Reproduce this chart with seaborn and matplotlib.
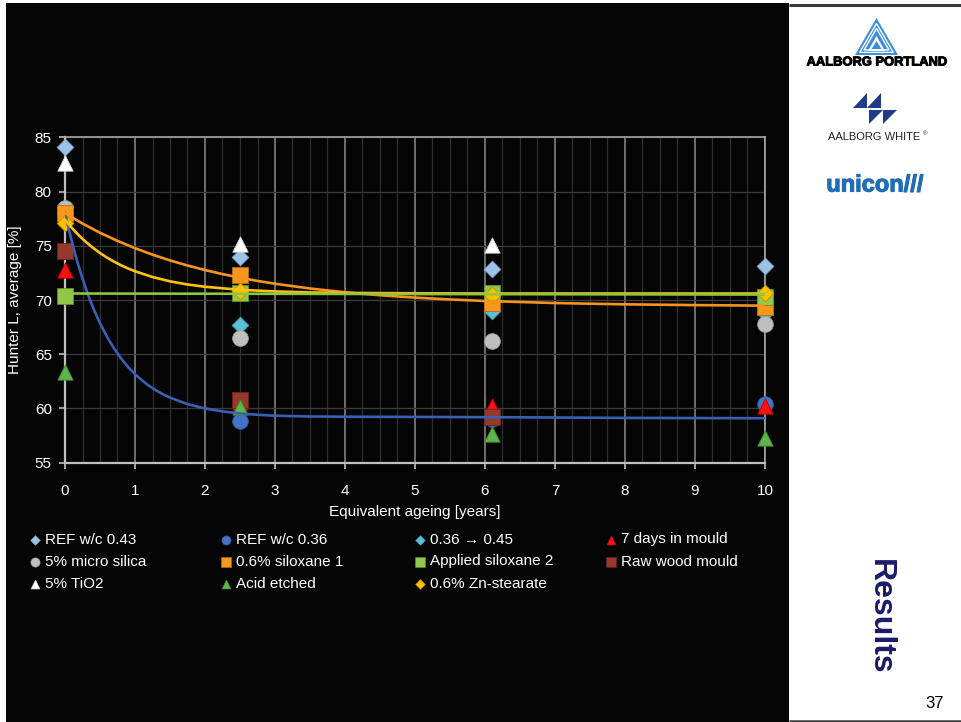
import numpy as np
import pandas as pd
import matplotlib
matplotlib.use("Agg")
import matplotlib.pyplot as plt
from matplotlib.patches import Rectangle, Polygon
import matplotlib.patheffects as pe
import seaborn as sns

# Hunter L measured after each equivalent ageing step
ageing_years = [0, 2.5, 6.1, 10]

ref_043 = [84.1, 74.0, 72.9, 73.1]
ref_036 = [78.0, 58.85, 59.0, 60.4]
wc_036_045 = [78.0, 67.7, 69.0, 68.8]
days_in_mould_7 = [72.8, 60.6, 60.2, 60.2]
micro_silica_5 = [78.5, 66.5, 66.2, 67.8]
siloxane_1 = [78.0, 72.3, 69.7, 69.4]
applied_siloxane_2 = [70.4, 70.6, 70.6, 70.3]
raw_wood_mould = [74.5, 60.8, 59.2, np.nan]
tio2_5 = [82.6, 75.2, 75.1, np.nan]
acid_etched = [63.4, 60.1, 57.6, 57.3]
zn_stearate = [77.1, 70.8, 70.5, 70.6]

labels = ["REF w/c 0.43", "REF w/c 0.36", "0.36 \u2192 0.45", "7 days in mould",
          "5% micro silica", "0.6% siloxane 1", "Applied siloxane 2", "Raw wood mould",
          "5% TiO2", "Acid etched", "0.6% Zn-stearate"]
values = [ref_043, ref_036, wc_036_045, days_in_mould_7, micro_silica_5, siloxane_1,
          applied_siloxane_2, raw_wood_mould, tio2_5, acid_etched, zn_stearate]

# model curves
blue_fit_x = [0, 0.05, 0.1, 0.15, 0.2, 0.25, 0.3, 0.35, 0.4, 0.45, 0.5, 0.6, 0.7, 0.8,
              0.9, 1.0, 1.1, 1.2, 1.3, 1.4, 1.5, 1.75, 2.0, 2.25, 2.5, 2.75, 3.0, 3.5,
              4, 5, 6, 8, 10]
blue_fit_y = [78.05, 76.64, 75.34, 74.13, 73.01, 71.98, 71.02, 70.14, 69.32, 68.56,
              67.86, 66.61, 65.54, 64.62, 63.83, 63.16, 62.59, 62.09, 61.67, 61.31,
              61.0, 60.4, 60.0, 59.73, 59.54, 59.42, 59.33, 59.26, 59.24, 59.22, 59.2,
              59.13, 59.1]
orange_fit_x = [0, 0.25, 0.5, 0.75, 1.0, 1.25, 1.5, 1.75, 2.0, 2.25, 2.5, 2.75, 3.0,
                3.5, 4.0, 4.5, 5, 5.5, 6, 7, 8, 9, 10]
orange_fit_y = [78.0, 77.05, 76.2, 75.45, 74.78, 74.18, 73.65, 73.18, 72.76, 72.39,
                72.06, 71.76, 71.5, 71.06, 70.71, 70.44, 70.22, 70.05, 69.91, 69.72,
                69.6, 69.53, 69.48]
yellow_fit_x = [0, 0.1, 0.2, 0.3, 0.4, 0.5, 0.6, 0.7, 0.8, 0.9, 1.0, 1.25, 1.5, 1.75,
                2.0, 2.5, 3.0, 3.5, 4, 5, 6, 10]
yellow_fit_y = [77.4, 76.63, 75.95, 75.34, 74.81, 74.33, 73.91, 73.54, 73.2, 72.91,
                72.65, 72.12, 71.72, 71.43, 71.22, 70.94, 70.79, 70.7, 70.65, 70.62,
                70.6, 70.6]
green_fit_x = [0, 10]
green_fit_y = [70.6, 70.5]

# marker style per series: (marker, face, edge, size)
styles = [
    ("D", "#9DC3E6", "#7FA6CC", 72),
    ("o", "#4472C4", "#2F528F", 128),
    ("D", "#5BC0D3", "#3E9FB2", 72),
    ("^", "#FF1010", "#C00000", 122),
    ("o", "#BFBFBF", "#A0A0A0", 128),
    ("s", "#F7981D", "#B86E10", 125),
    ("s", "#92C84A", "#5F8F2A", 125),
    ("s", "#953A2B", "#6B2418", 125),
    ("^", "#FFFFFF", "#D0D0D0", 122),
    ("^", "#5CB548", "#3E8A2E", 122),
    ("D", "#FFC000", "#C79400", 72),
]

sns.set_theme(style="white")
plt.rcParams["font.family"] = ["Liberation Sans", "DejaVu Sans"]

W, H = 962, 722
fig = plt.figure(figsize=(W / 100, H / 100), dpi=100)
fig.patch.set_facecolor("#050505")

ax = fig.add_axes([65 / W, 1 - 462.7 / H, 700 / W, 325.4 / H])
ax.set_facecolor("#050505")

for lab, vals, (m, fc, ec, s) in zip(labels, values, styles):
    df = pd.DataFrame({"age": ageing_years, "L": vals}).dropna()
    sns.scatterplot(data=df, x="age", y="L", ax=ax, marker=m, color=fc, edgecolor=ec,
                    linewidth=0.6, s=s, zorder=3, clip_on=False, legend=False)

for fx, fy, c in [(blue_fit_x, blue_fit_y, "#3A5FB5"),
                  (orange_fit_x, orange_fit_y, "#F7941D"),
                  (yellow_fit_x, yellow_fit_y, "#FFC20E"),
                  (green_fit_x, green_fit_y, "#8DC63F")]:
    sns.lineplot(x=fx, y=fy, ax=ax, color=c, lw=1.9, sort=False, estimator=None,
                 legend=False, zorder=4)
for line in ax.lines:
    line.set_solid_joinstyle("round")

ax.set_xlim(0, 10)
ax.set_ylim(55, 85)
ax.set_xticks(range(0, 11))
ax.set_xticks(np.arange(0, 10.01, 0.25), minor=True)
ax.set_yticks(range(55, 86, 5))
ax.set_axisbelow(True)
ax.grid(which="minor", axis="x", color="#2E2E2E", lw=0.9)
ax.grid(which="major", axis="x", color="#8C8C8C", lw=1.1)
ax.grid(which="major", axis="y", color="#3C3C3C", lw=0.9)
for side in ["left", "bottom"]:
    ax.spines[side].set_color("#BFBFBF")
    ax.spines[side].set_linewidth(1.6)
ax.spines["top"].set_color("#A6A6A6")
ax.spines["top"].set_linewidth(1.2)
ax.spines["right"].set_color("#A6A6A6")
ax.spines["right"].set_linewidth(1.2)
ax.tick_params(which="major", direction="out", length=4, width=1.2, color="#BFBFBF",
               labelcolor="white", labelsize=11, left=True, bottom=True)
ax.tick_params(axis="y", pad=5.5)
ax.tick_params(axis="x", pad=11)
ax.tick_params(which="minor", length=0)

ax.set_xlabel("Equivalent ageing [years]", color="white", fontsize=11, va="center")
ax.xaxis.set_label_coords(0.5, (462.7 - 512) / 325.4)
ax.set_ylabel("Hunter L, average [%]", color="white", fontsize=11, va="center")
ax.yaxis.set_label_coords((15 - 65) / 700, 0.5)

# overlay in pixel coordinates for the legend block and the side panel
ov = fig.add_axes([0, 0, 1, 1], zorder=5)
ov.set_xlim(0, W)
ov.set_ylim(H, 0)
ov.axis("off")
ov.patch.set_alpha(0)

ov.add_patch(Rectangle((0, 0), 6, H, color="white", lw=0))
ov.add_patch(Rectangle((0, 0), W, 2.5, color="white", lw=0))
ov.add_patch(Rectangle((789, 0), W - 789, H, color="white", lw=0))
ov.plot([789, W], [5, 5], color="#3A3A3A", lw=2.2, solid_capstyle="butt")
ov.plot([789, W], [720.5, 720.5], color="#3A3A3A", lw=1.8, solid_capstyle="butt")

# legend: three rows, four columns
col_x = [35, 226, 420, 611]
row_y = [539.5, 561.5, 583.5]
leg_size = {"D": 24, "o": 44, "s": 42, "^": 42}
for i, lab in enumerate(labels):
    r, c = divmod(i, 4)
    m, fc, ec, s = styles[i]
    ov.scatter([col_x[c]], [row_y[r]], marker=m, s=leg_size[m], color=fc,
               edgecolor=ec, linewidth=0.4, zorder=6)
    ov.text(col_x[c] + 10, row_y[r], lab, color="white", fontsize=11,
            ha="left", va="center", family=["Liberation Sans", "DejaVu Sans"])

# Aalborg Portland mark
blue_tri = "#3B8FD8"
outer = [(855, 55), (876.5, 18), (898, 55)]
ov.add_patch(Polygon(outer, closed=True, color=blue_tri, lw=0))
cx, cy = 876.5, 43
for t in [0.22, 0.42]:
    inner = [(cx + (px - cx) * (1 - t), cy + (py - cy) * (1 - t)) for px, py in outer]
    ov.add_patch(Polygon(inner, closed=True, fill=False, edgecolor="white", lw=1.0))
ov.add_patch(Polygon([(868, 51), (876.5, 36), (885, 51)], closed=True,
                     color="white", lw=0))
ov.add_patch(Polygon([(871.5, 49), (876.5, 41), (881.5, 49)], closed=True,
                     color=blue_tri, lw=0))
ov.text(876.5, 62.5, "AALBORG PORTLAND", fontsize=9.3, fontweight="bold", color="black",
        ha="center", va="center",
        path_effects=[pe.withStroke(linewidth=0.7, foreground="black")])

# Aalborg White mark
navy = "#1F3C88"
for dx in [0, 14]:
    ov.add_patch(Polygon([(853 + dx, 108), (867 + dx, 93), (867 + dx, 108)],
                         closed=True, color=navy, lw=0))
    ov.add_patch(Polygon([(869 + dx, 110), (883 + dx, 110), (869 + dx, 124)],
                         closed=True, color=navy, lw=0))
ov.text(874, 137.5, "AALBORG WHITE", fontsize=8, color="#222222", ha="center",
        va="center")
ov.text(925, 134, "\u00ae", fontsize=4.5, color="#222222", ha="center", va="center")

# Unicon mark
ov.text(875, 185, "unicon///", fontsize=17, fontweight="bold", color="#1F6DB5",
        ha="center", va="center",
        path_effects=[pe.withStroke(linewidth=0.8, foreground="#1F6DB5")])

ov.text(880, 617, "Results", fontsize=23, fontweight="bold", color="#1B1B6B",
        rotation=270, ha="center", va="center")
ov.text(935, 704, "37", fontsize=12, color="black", ha="center", va="center")

fig.savefig("out.png", dpi=100, facecolor=fig.get_facecolor())
